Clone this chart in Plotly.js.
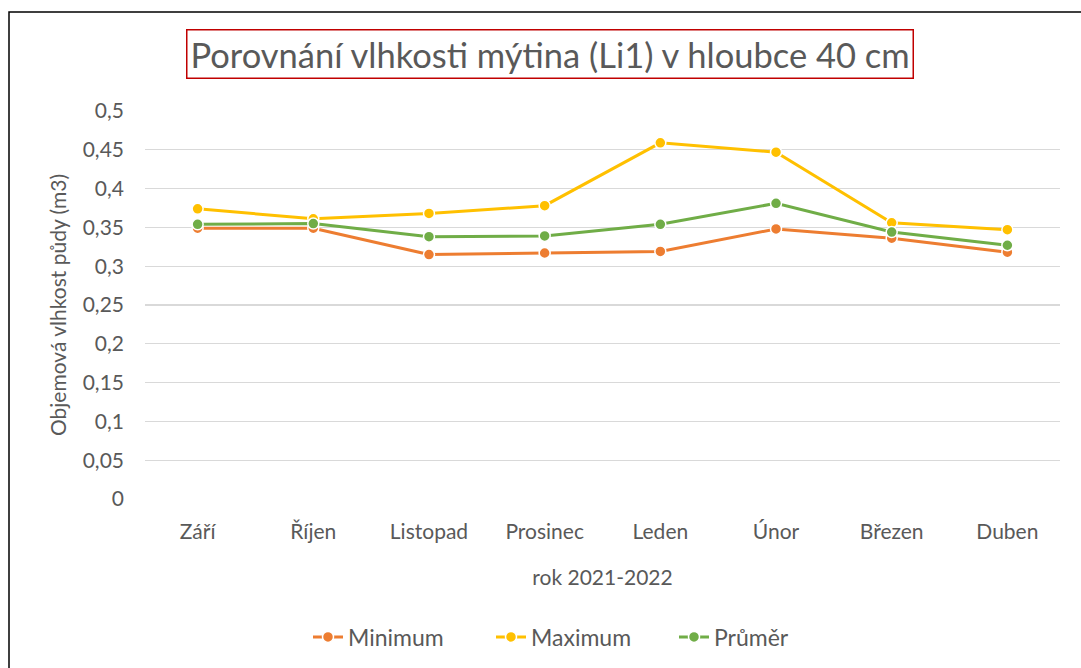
<!DOCTYPE html>
<html>
<head>
<meta charset="utf-8">
<script src="https://cdn.plot.ly/plotly-3.0.1.min.js"></script>
<style>
  html, body { margin: 0; padding: 0; background: #fff; }
  #chart { width: 1081px; height: 668px; }
</style>
</head>
<body>
<div id="chart"></div>
<script>
const months = ["Září", "Říjen", "Listopad", "Prosinec", "Leden", "Únor", "Březen", "Duben"];
const minimum = [0.349, 0.349, 0.315, 0.317, 0.319, 0.348, 0.336, 0.318];
const maximum = [0.374, 0.361, 0.368, 0.378, 0.459, 0.447, 0.356, 0.347];
const prumer  = [0.354, 0.355, 0.338, 0.339, 0.354, 0.381, 0.344, 0.327];
const yTicks = [0, 0.05, 0.1, 0.15, 0.2, 0.25, 0.3, 0.35, 0.4, 0.45, 0.5];
const yTickText = ["0", "0,05", "0,1", "0,15", "0,2", "0,25", "0,3", "0,35", "0,4", "0,45", "0,5"];

const FONT = "Lato, 'Open Sans', sans-serif";
const TXT = "#595959";
const FS = 21;

function series(name, y, color) {
  return {
    x: months, y: y, name: name, type: "scatter", mode: "lines+markers",
    line: { color: color, width: 3 },
    marker: { color: color, size: 11, line: { color: "#ffffff", width: 1.5 } }
  };
}

const data = [
  series("Minimum", minimum, "#ED7D31"),
  series("Maximum", maximum, "#FFC000"),
  series("Průměr", prumer, "#70AD47")
];

const L = 145, R = 1060, T = 111, B = 499;
const W = R - L, H = B - T;
const px = x => (x - L) / W;
const py = y => (B - y) / H;

const layout = {
  width: 1081, height: 668,
  margin: { l: L, r: 1081 - R, t: T, b: 668 - B, autoexpand: false },
  paper_bgcolor: "#ffffff", plot_bgcolor: "#ffffff",
  font: { family: FONT, color: TXT, size: FS },
  showlegend: true,
  legend: {
    orientation: "h", x: px(308), xanchor: "left", y: py(637), yanchor: "middle",
    font: { family: FONT, size: 23, color: TXT }, tracegroupgap: 0,
    entrywidth: 138, entrywidthmode: "pixels"
  },
  xaxis: {
    type: "category", showgrid: false, zeroline: false,
    showline: false, ticks: "", ticklabelstandoff: 18, automargin: false,
    tickfont: { family: FONT, size: FS, color: TXT },
    title: { text: "rok 2021-2022", font: { family: FONT, size: FS, color: TXT }, standoff: 28 }
  },
  yaxis: {
    range: [0, 0.5], tickvals: yTicks, ticktext: yTickText,
    showgrid: true, gridcolor: "#d9d9d9", gridwidth: 1.3, automargin: false,
    zeroline: false, showline: false, ticks: "", ticklabelstandoff: 20,
    tickfont: { family: FONT, size: FS, color: TXT },
    title: { text: "Objemová vlhkost půdy (m3)", font: { family: FONT, size: FS, color: TXT }, standoff: 10 }
  },
  annotations: [{
    xref: "paper", yref: "paper", x: px(550), y: py(54), xanchor: "center", yanchor: "middle",
    text: "Porovnání vlhkosti mýtina (Li1) v hloubce 40 cm", showarrow: false,
    font: { family: FONT, size: 34.5, color: TXT },
    bordercolor: "#C00000", borderwidth: 1.5, borderpad: 3, bgcolor: "#ffffff"
  }],
  shapes: [{
    type: "rect", xref: "paper", yref: "paper",
    x0: px(9), x1: px(1090), y0: py(680), y1: py(12),
    line: { color: "#000000", width: 1.5 }, layer: "below"
  }]
};

Plotly.newPlot("chart", data, layout, { displayModeBar: false, staticPlot: true });
</script>
</body>
</html>
